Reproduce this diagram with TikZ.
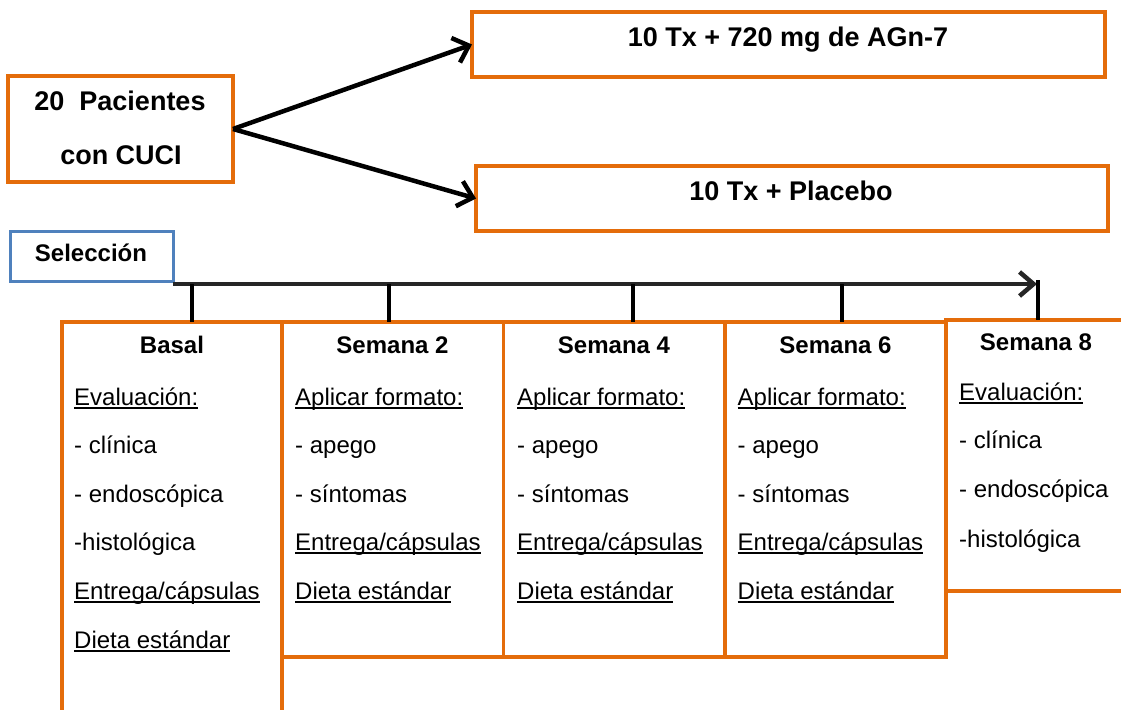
\documentclass[tikz,border=0pt]{standalone}
\usepackage{fontspec}
\setmainfont{Liberation Sans}
\usetikzlibrary{arrows.meta}
\definecolor{boxorange}{HTML}{E46C0A}
\definecolor{boxblue}{HTML}{4F81BD}
\definecolor{axisgray}{HTML}{262626}
\newcommand\ulin[1]{\setbox0\hbox{#1}\rlap{\rule[-3.5pt]{\wd0}{1.6pt}}\box0}
\begin{document}
\begin{tikzpicture}[x=1pt,y=-1pt,
  obox/.style={draw=boxorange, line width=3.5pt, rectangle, inner sep=0pt, outer sep=0pt, anchor=north west},
  bbox/.style={draw=boxblue, line width=3pt, rectangle, inner sep=0pt, outer sep=0pt, anchor=north west},
  bigtxt/.style={font=\fontsize{27}{32}\selectfont\bfseries, anchor=base, inner sep=0pt},
  ttl/.style={font=\fontsize{24}{28}\selectfont\bfseries, anchor=base, inner sep=0pt},
  itm/.style={font=\fontsize{24}{28}\selectfont, anchor=base west, inner sep=0pt},
  conn/.style={line width=4.5pt, -{Straight Barb[length=14pt,width=26pt]}},
  axis/.style={draw=axisgray, line width=4.5pt, -{Straight Barb[length=14pt,width=24pt]}},
  tick/.style={draw=black, line width=4pt},
]
\useasboundingbox (0,0) rectangle (1121,709);
\clip (0,0) rectangle (1121,709);

% top boxes
\node[obox, minimum width=225pt, minimum height=106pt] (pac) at (8,76) {};
\node[obox, minimum width=633pt, minimum height=65pt] (tx1) at (472,12) {};
\node[obox, minimum width=632pt, minimum height=65pt] (tx2) at (476,166) {};
\node[bigtxt] (pac1) at (120,110) {20~~Pacientes};
\node[bigtxt] (pac2) at (121,164) {con CUCI};
\node[bigtxt] (t1) at (788,47) {10 Tx + 720 mg de AGn-7};
\node[bigtxt] (t2) at (791,200) {10 Tx + Placebo};
\draw[conn] (pac.east) -- (tx1.west);
\draw[conn] (pac.east) -- (tx2.west);

% selection
\node[bbox, minimum width=163pt, minimum height=50pt] (sel) at (10,231) {};
\node[ttl] (selt) at (91,261) {Selección};

% timeline boxes
\node[obox, minimum width=220pt, minimum height=450pt] (basal) at (62,322) {};
\node[obox, minimum width=221.5pt, minimum height=335pt] (s2) at (282,322) {};
\node[obox, minimum width=221.5pt, minimum height=335pt] (s4) at (503.5,322) {};
\node[obox, minimum width=221pt, minimum height=335pt] (s6) at (725,322) {};
\node[obox, minimum width=250pt, minimum height=271pt] (s8) at (946,320) {};

% timeline
\coordinate (tl0) at (173,284);
\coordinate (tlend) at (1037,284);
\draw[axis] (tl0) -- (tlend);
\coordinate (k1) at (192,284);
\coordinate (k2) at (388.5,284);
\coordinate (k3) at (633,284);
\coordinate (k4) at (842,284);
\coordinate (k5) at (1038,280);
\draw[tick] (k1) -- (k1 |- basal.north);
\draw[tick] (k2) -- (k2 |- s2.north);
\draw[tick] (k3) -- (k3 |- s4.north);
\draw[tick] (k4) -- (k4 |- s6.north);
\draw[tick] (k5) -- (k5 |- s8.north);

% Basal
\node[ttl] (bt) at (172,353) {Basal};
\node[itm] (b1) at (74,405) {\ulin{Evaluación:}};
\node[itm] (b2) at (74,453) {- clínica};
\node[itm] (b3) at (74,502) {- endoscópica};
\node[itm] (b4) at (74,550) {-histológica};
\node[itm] (b5) at (74,599) {\ulin{Entrega/cápsulas}};
\node[itm] (b6) at (74,648) {\ulin{Dieta estándar}};

% Semana 2
\node[ttl] (s2t) at (392.5,353) {Semana 2};
\node[itm] (s2a) at (295,405) {\ulin{Aplicar formato:}};
\node[itm] (s2b) at (295,453) {- apego};
\node[itm] (s2c) at (295,502) {- síntomas};
\node[itm] (s2d) at (295,550) {\ulin{Entrega/cápsulas}};
\node[itm] (s2e) at (295,599) {\ulin{Dieta estándar}};

% Semana 4
\node[ttl] (s4t) at (614,353) {Semana 4};
\node[itm] (s4a) at (517,405) {\ulin{Aplicar formato:}};
\node[itm] (s4b) at (517,453) {- apego};
\node[itm] (s4c) at (517,502) {- síntomas};
\node[itm] (s4d) at (517,550) {\ulin{Entrega/cápsulas}};
\node[itm] (s4e) at (517,599) {\ulin{Dieta estándar}};

% Semana 6
\node[ttl] (s6t) at (835.5,353) {Semana 6};
\node[itm] (s6a) at (737.5,405) {\ulin{Aplicar formato:}};
\node[itm] (s6b) at (737.5,453) {- apego};
\node[itm] (s6c) at (737.5,502) {- síntomas};
\node[itm] (s6d) at (737.5,550) {\ulin{Entrega/cápsulas}};
\node[itm] (s6e) at (737.5,599) {\ulin{Dieta estándar}};

% Semana 8
\node[ttl] (s8t) at (1036,350) {Semana 8};
\node[itm] (s8a) at (959,400) {\ulin{Evaluación:}};
\node[itm] (s8b) at (959,448) {- clínica};
\node[itm] (s8c) at (959,497) {- endoscópica};
\node[itm] (s8d) at (959,547) {-histológica};
\end{tikzpicture}
\end{document}
